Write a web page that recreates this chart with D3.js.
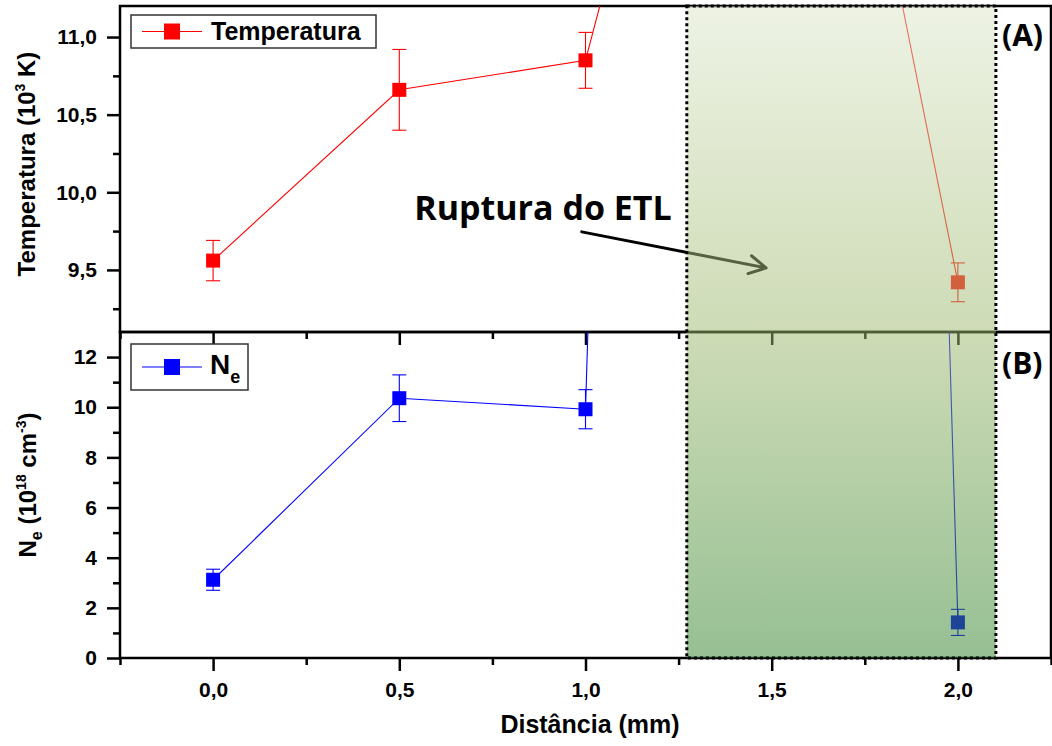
<!DOCTYPE html>
<html>
<head>
<meta charset="utf-8">
<script src="https://cdn.jsdelivr.net/npm/d3@7"></script>
<style>
	body { margin: 0; background: #fff; }
	text { font-family: "Liberation Sans", Arial, sans-serif; font-weight: bold; }
</style>
</head>
<body>
<div id="chart"></div>
<script>
// valores
var distancia = [0, 0.5, 1.0, 1.5, 2.0]
var temperatura = [9.56, 10.66, 10.85, 15.4, 9.42]
var erroTemperatura = [0.13, 0.26, 0.18, 0.3, 0.125]
var densidade = [3.12, 10.36, 9.92, 250, 1.42]
var erroDensidade = [0.42, 0.93, 0.78, 10, 0.52]

var xTicks = [0, 0.5, 1.0, 1.5, 2.0]
var xMinor = [-0.25, 0.25, 0.75, 1.25, 1.75, 2.25]
var tTicks = [9.5, 10.0, 10.5, 11.0]
var tMinor = [9.25, 9.75, 10.25, 10.75]
var nTicks = [0, 2, 4, 6, 8, 10, 12]
var nMinor = [1, 3, 5, 7, 9, 11]

var regiaoRuptura = [1.272, 2.102]
var setaRuptura = [[0.99, 9.745], [1.485, 9.513]]
var textoRuptura = [0.54, 9.82]

var width = 1052
var height = 746
var left = 120, right = 1051
var topA = 6, mid = 332, bottom = 658

var svg = d3.select("#chart").append("svg")
	.attr("width", width)
	.attr("height", height)

var x = d3.scaleLinear().domain([-0.25, 2.25]).range([left, right])
var yT = d3.scaleLinear().domain([9.1, 11.2]).range([mid, topA])
var yN = d3.scaleLinear().domain([0, 13]).range([bottom, mid])

var virgula = function(d) { return d3.format(".1f")(d).replace(".", ",") }

var defs = svg.append("defs")
defs.append("clipPath").attr("id", "clipA").append("rect")
	.attr("x", left).attr("y", topA).attr("width", right - left).attr("height", mid - topA)
defs.append("clipPath").attr("id", "clipB").append("rect")
	.attr("x", left).attr("y", mid).attr("width", right - left).attr("height", bottom - mid)

var grad = defs.append("linearGradient").attr("id", "verde")
	.attr("gradientUnits", "userSpaceOnUse")
	.attr("x1", 0).attr("x2", 0).attr("y1", topA).attr("y2", bottom)
grad.append("stop").attr("offset", 0).attr("stop-color", "#dce6c9")
grad.append("stop").attr("offset", 0.5).attr("stop-color", "#9db86d")
grad.append("stop").attr("offset", 1).attr("stop-color", "#2f8029")

function estiloEixo(g) {
	g.attr("font-size", 21).attr("font-family", null)
	g.selectAll(".tick line").attr("stroke-width", 2.5)
	g.select(".domain").remove()
}

// eixos painel A
svg.append("g").attr("transform", "translate(" + left + ",0)")
	.call(d3.axisLeft(yT).tickValues(tTicks).tickSize(13).tickPadding(10).tickFormat(virgula))
	.call(estiloEixo)
svg.append("g").attr("transform", "translate(" + left + ",0)")
	.call(d3.axisLeft(yT).tickValues(tMinor).tickSize(7).tickFormat(""))
	.call(estiloEixo)
svg.append("g").attr("transform", "translate(0," + mid + ")")
	.call(d3.axisBottom(x).tickValues(xTicks).tickSize(13).tickFormat(""))
	.call(estiloEixo)
svg.append("g").attr("transform", "translate(0," + mid + ")")
	.call(d3.axisBottom(x).tickValues(xMinor).tickSize(7).tickFormat(""))
	.call(estiloEixo)

// eixos painel B
svg.append("g").attr("transform", "translate(" + left + ",0)")
	.call(d3.axisLeft(yN).tickValues(nTicks).tickSize(13).tickPadding(10))
	.call(estiloEixo)
svg.append("g").attr("transform", "translate(" + left + ",0)")
	.call(d3.axisLeft(yN).tickValues(nMinor).tickSize(7).tickFormat(""))
	.call(estiloEixo)
svg.append("g").attr("transform", "translate(0," + bottom + ")")
	.call(d3.axisBottom(x).tickValues(xTicks).tickSize(13).tickPadding(11).tickFormat(virgula))
	.call(estiloEixo)
svg.append("g").attr("transform", "translate(0," + bottom + ")")
	.call(d3.axisBottom(x).tickValues(xMinor).tickSize(7).tickFormat(""))
	.call(estiloEixo)

// molduras
svg.append("rect").attr("x", left).attr("y", topA).attr("width", right - left).attr("height", mid - topA)
	.attr("fill", "none").attr("stroke", "#000").attr("stroke-width", 2.5)
svg.append("rect").attr("x", left).attr("y", mid).attr("width", right - left).attr("height", bottom - mid)
	.attr("fill", "none").attr("stroke", "#000").attr("stroke-width", 2.5)

function serie(y, valores, erros, cor, clip) {
	var dados = distancia.map(function(d, i) { return { x: d, v: valores[i], e: erros[i] } })
	var g = svg.append("g").attr("clip-path", "url(#" + clip + ")")
	var linha = d3.line().x(function(d) { return x(d.x) }).y(function(d) { return y(d.v) })
	g.append("path").datum(dados).attr("d", linha)
		.attr("fill", "none").attr("stroke", cor).attr("stroke-width", 1.1)
	var barras = g.selectAll(".erro").data(dados).enter().append("g")
	barras.append("line")
		.attr("x1", function(d) { return x(d.x) }).attr("x2", function(d) { return x(d.x) })
		.attr("y1", function(d) { return y(d.v - d.e) }).attr("y2", function(d) { return y(d.v + d.e) })
		.attr("stroke", cor).attr("stroke-width", 1.1)
	;[-1, 1].forEach(function(s) {
		barras.append("line")
			.attr("x1", function(d) { return x(d.x) - 7 }).attr("x2", function(d) { return x(d.x) + 7 })
			.attr("y1", function(d) { return y(d.v + s * d.e) }).attr("y2", function(d) { return y(d.v + s * d.e) })
			.attr("stroke", cor).attr("stroke-width", 1.1)
	})
	g.selectAll(".pt").data(dados).enter().append("rect")
		.attr("x", function(d) { return x(d.x) - 7 })
		.attr("y", function(d) { return y(d.v) - 7 })
		.attr("width", 14).attr("height", 14)
		.attr("fill", cor)
}
serie(yT, temperatura, erroTemperatura, "#ff0000", "clipA")
serie(yN, densidade, erroDensidade, "#0000ff", "clipB")

// seta "Ruptura do ETL"
var p0 = [x(setaRuptura[0][0]), yT(setaRuptura[0][1])]
var p1 = [x(setaRuptura[1][0]), yT(setaRuptura[1][1])]
var ang = Math.atan2(p1[1] - p0[1], p1[0] - p0[0])
var ponta = function(a) { return [p1[0] - 19 * Math.cos(ang + a), p1[1] - 19 * Math.sin(ang + a)] }
svg.append("path")
	.attr("d", "M" + p0 + "L" + p1 + "M" + ponta(0.5) + "L" + p1 + "L" + ponta(-0.5))
	.attr("fill", "none").attr("stroke", "#000").attr("stroke-width", 3)
	.attr("stroke-linecap", "round").attr("stroke-linejoin", "round")

// regiao sombreada
svg.append("rect")
	.attr("x", x(regiaoRuptura[0])).attr("y", topA)
	.attr("width", x(regiaoRuptura[1]) - x(regiaoRuptura[0])).attr("height", bottom - topA)
	.attr("fill", "url(#verde)").attr("fill-opacity", 0.5)
svg.append("rect")
	.attr("x", x(regiaoRuptura[0])).attr("y", topA)
	.attr("width", x(regiaoRuptura[1]) - x(regiaoRuptura[0])).attr("height", bottom - topA)
	.attr("fill", "none").attr("stroke", "#000").attr("stroke-width", 3)
	.attr("stroke-dasharray", "3,3")

svg.append("text")
	.attr("x", x(textoRuptura[0])).attr("y", yT(textoRuptura[1]))
	.attr("font-size", 34).style("font-family", "'Open Sans', sans-serif")
	.text("Ruptura do ETL")

svg.append("text").attr("x", 1002).attr("y", 46).attr("font-size", 30)
	.style("font-family", "'Open Sans', sans-serif").text("(A)")
svg.append("text").attr("x", 1002).attr("y", 374).attr("font-size", 30)
	.style("font-family", "'Open Sans', sans-serif").text("(B)")

// legendas
function legenda(x0, y0, w, h, cor) {
	svg.append("rect").attr("x", x0).attr("y", y0).attr("width", w).attr("height", h)
		.attr("fill", "#fff").attr("stroke", "#333").attr("stroke-width", 1.5)
	var cy = y0 + h / 2
	svg.append("line").attr("x1", x0 + 11).attr("x2", x0 + 71).attr("y1", cy).attr("y2", cy)
		.attr("stroke", cor).attr("stroke-width", 1.2)
	svg.append("rect").attr("x", x0 + 33).attr("y", cy - 8).attr("width", 16).attr("height", 16)
		.attr("fill", cor)
}
legenda(131, 15, 245, 33, "#ff0000")
svg.append("text").attr("x", 211).attr("y", 40).attr("font-size", 25).text("Temperatura")
legenda(131, 344, 117, 46, "#0000ff")
var ne = svg.append("text").attr("x", 210).attr("y", 374).attr("font-size", 28)
ne.append("tspan").text("N")
ne.append("tspan").attr("font-size", 18).attr("dy", 9).text("e")

// titulos dos eixos
svg.append("text").attr("x", 590).attr("y", 733).attr("font-size", 25)
	.attr("text-anchor", "middle").text("Distância (mm)")

var tt = svg.append("text").attr("transform", "translate(35,164) rotate(-90)")
	.attr("font-size", 24).attr("text-anchor", "middle")
tt.append("tspan").text("Temperatura (10")
tt.append("tspan").attr("font-size", 14).attr("dy", -10).text("3")
tt.append("tspan").attr("dy", 10).text(" K)")

var tn = svg.append("text").attr("transform", "translate(36,485) rotate(-90)")
	.attr("font-size", 24).attr("text-anchor", "middle")
tn.append("tspan").text("N")
tn.append("tspan").attr("font-size", 16).attr("dy", 6).text("e")
tn.append("tspan").attr("dy", -6).text(" (10")
tn.append("tspan").attr("font-size", 14).attr("dy", -10).text("18")
tn.append("tspan").attr("dy", 10).text(" cm")
tn.append("tspan").attr("font-size", 14).attr("dy", -10).text("-3")
tn.append("tspan").attr("dy", 10).text(")")
</script>
</body>
</html>
